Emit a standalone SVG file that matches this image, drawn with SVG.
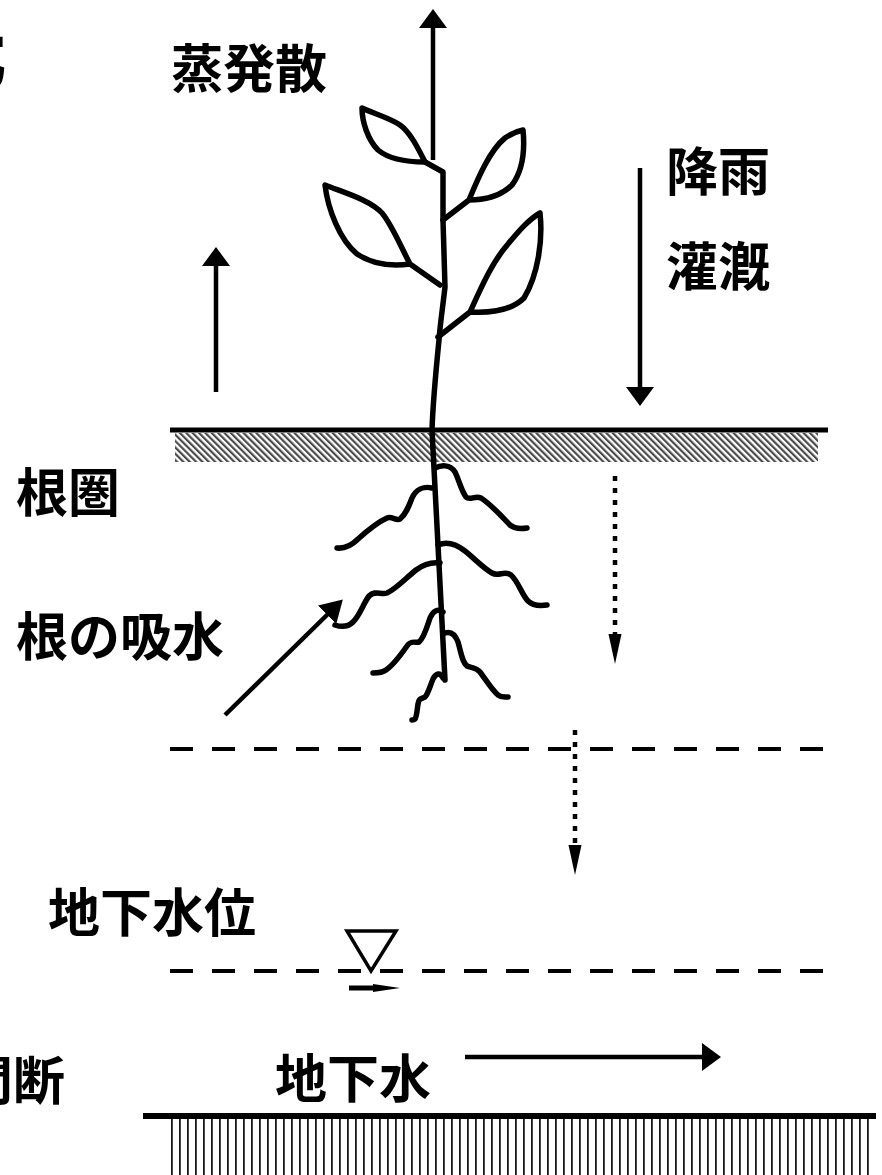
<svg xmlns="http://www.w3.org/2000/svg" width="882" height="1175" viewBox="0 0 882 1175">
  <style>
    .lbl { font-family: "Noto Sans CJK JP", "Noto Sans", sans-serif; font-weight: 700; font-size: 52px; fill: #000; }
    .ln { stroke: #000; fill: none; stroke-linecap: butt; }
    .plant { stroke: #000; stroke-width: 5.5; fill: none; stroke-linecap: round; stroke-linejoin: round; }
    .dash { stroke: #000; stroke-width: 4; stroke-dasharray: 23 19; fill: none; }
    .dot { stroke: #000; stroke-width: 4.5; stroke-dasharray: 5 7; fill: none; }
  </style>
  <defs>
    <pattern id="diag" patternUnits="userSpaceOnUse" width="4.5" height="10" patternTransform="rotate(-45)">
      <rect width="4.5" height="10" fill="#fff"/>
      <rect width="2.2" height="10" fill="#4a4a4a"/>
    </pattern>
    <pattern id="vert" patternUnits="userSpaceOnUse" x="171" width="8" height="60">
      <rect width="8" height="60" fill="#fff"/>
      <rect x="0" width="1.8" height="60" fill="#1a1a1a"/>
    </pattern>
    <marker id="ah" markerUnits="userSpaceOnUse" markerWidth="20" markerHeight="30" refX="4" refY="14" orient="auto">
      <path d="M0,0 L19,14 L0,28 Z" fill="#000"/>
    </marker>
    <marker id="ahs" markerUnits="userSpaceOnUse" markerWidth="24" markerHeight="30" refX="4" refY="14" orient="auto">
      <path d="M0,1 L22,14 L0,27 Z" fill="#000"/>
    </marker>
    <marker id="an" markerUnits="userSpaceOnUse" markerWidth="32" markerHeight="14" refX="2" refY="6.5" orient="auto">
      <path d="M0,0 L30,6.5 L0,13 Z" fill="#000"/>
    </marker>
    <marker id="at" markerUnits="userSpaceOnUse" markerWidth="30" markerHeight="10" refX="2" refY="4.5" orient="auto">
      <path d="M0,0.5 L27,4.5 L0,8.5 Z" fill="#000"/>
    </marker>
  </defs>

  <!-- partial title glyph and left margin label -->
  <text class="lbl" x="-81" y="81" style="font-size:88px">元</text>
  <text class="lbl" x="-39" y="1100">間断</text>

  <!-- soil surface -->
  <g id="surface">
    <rect x="175" y="433" width="643" height="29" fill="url(#diag)"/>
    <line class="ln" x1="170" y1="430" x2="828" y2="430" stroke-width="5"/>
  </g>

  <!-- impermeable base -->
  <g id="base">
    <rect x="171" y="1118" width="702" height="57" fill="url(#vert)"/>
    <line class="ln" x1="143" y1="1116" x2="876" y2="1116" stroke-width="6"/>
  </g>

  <!-- root-zone boundary and water table -->
  <g id="boundaries">
    <line class="dash" x1="170" y1="749" x2="824" y2="749"/>
    <line class="dash" x1="170" y1="971" x2="824" y2="971"/>
  </g>

  <g id="water-table-mark">
    <path d="M347,931 L396,931 L371,971 Z" fill="#fff" stroke="#000" stroke-width="3.5" stroke-linejoin="miter"/>
    <line class="ln" x1="349" y1="988" x2="375" y2="988" stroke-width="5" marker-end="url(#at)"/>
  </g>

  <!-- plant -->
  <g id="plant">
    <path class="plant" d="M425,162 L443,172 L443,220 L445,287 C443,305 440,325 439,340 C436,370 433,400 432,430 L445,680"/>
    <!-- leaves -->
    <path class="plant" d="M425,162 C418,148 410,132 400,125 C390,118 372,113 362,108 C362,122 368,140 378,150 C390,160 410,162 425,162 Z"/>
    <path class="plant" d="M410,264 C400,245 392,225 382,213 C370,200 345,193 325,185 C328,210 340,240 357,254 C375,266 395,266 410,264 Z M410,264 L440,285"/>
    <path class="plant" d="M469,200 C478,178 490,150 505,138 C512,133 518,131 523,130 C525,150 523,170 512,185 C500,197 485,200 469,200 Z M469,200 L443,220"/>
    <path class="plant" d="M470,312 C480,290 492,262 508,244 C518,232 528,220 540,213 C543,240 538,275 524,298 C510,312 488,313 470,312 Z M470,312 L438,337"/>
    <!-- roots -->
    <path class="plant" d="M432,488 C424,486 416,489 412,498 C409,506 406,514 400,519 C396,521 392,516 387,518 C378,522 368,530 358,539 C352,545 346,549 337,548"/>
    <path class="plant" d="M435,468 C441,465 450,464 455,472 C459,480 461,490 466,497 C470,501 475,495 481,498 C492,505 503,518 510,525 C515,529 521,529 527,528"/>
    <path class="plant" d="M438,545 C447,541 456,544 465,551 C475,559 483,568 492,573 C499,577 504,570 511,575 C518,581 522,595 528,601 C533,606 540,606 547,605"/>
    <path class="plant" d="M440,563 C432,562 424,564 416,570 C406,578 396,589 387,593 C381,595 375,590 369,596 C363,604 360,615 353,622 C348,627 341,627 335,625"/>
    <path class="plant" d="M443,612 C438,608 433,611 430,618 C427,627 424,638 419,642 C415,643 411,640 407,646 C400,656 392,666 386,670 C382,673 377,673 373,673"/>
    <path class="plant" d="M445,633 C451,631 455,634 458,642 C461,652 462,662 467,666 C471,668 476,667 480,672 C486,680 492,690 498,695 C502,698 505,697 508,697"/>
    <path class="plant" d="M443,678 C440,672 436,673 433,679 C430,686 428,694 425,697 C421,699 419,698 418,704 C417,710 417,716 415,719 C414,720 413,720 412,720"/>
  </g>

  <!-- flow arrows -->
  <g id="connectors">
    <line class="ln" x1="433" y1="160" x2="433" y2="24" stroke-width="4.5" marker-end="url(#ah)"/>
    <line class="ln" x1="216" y1="392" x2="216" y2="262" stroke-width="4.5" marker-end="url(#ah)"/>
    <line class="ln" x1="640" y1="168" x2="640" y2="391" stroke-width="4.5" marker-end="url(#ah)"/>
    <line class="ln" x1="225" y1="715" x2="330" y2="612" stroke-width="4.5" marker-end="url(#ahs)"/>
    <line class="dot" x1="615" y1="476" x2="615" y2="636" marker-end="url(#an)"/>
    <line class="dot" x1="575" y1="730" x2="575" y2="847" marker-end="url(#an)"/>
    <line class="ln" x1="465" y1="1057" x2="706" y2="1057" stroke-width="4.5" marker-end="url(#ah)"/>
  </g>

  <!-- labels -->
  <g id="labels">
    <text class="lbl" x="171" y="88">蒸発散</text>
    <text class="lbl" x="666" y="191">降雨</text>
    <text class="lbl" x="666" y="286">灌漑</text>
    <text class="lbl" x="16" y="512">根圏</text>
    <text class="lbl" x="16" y="656">根の吸水</text>
    <text class="lbl" x="48" y="932">地下水位</text>
    <text class="lbl" x="275" y="1098">地下水</text>
  </g>
</svg>
